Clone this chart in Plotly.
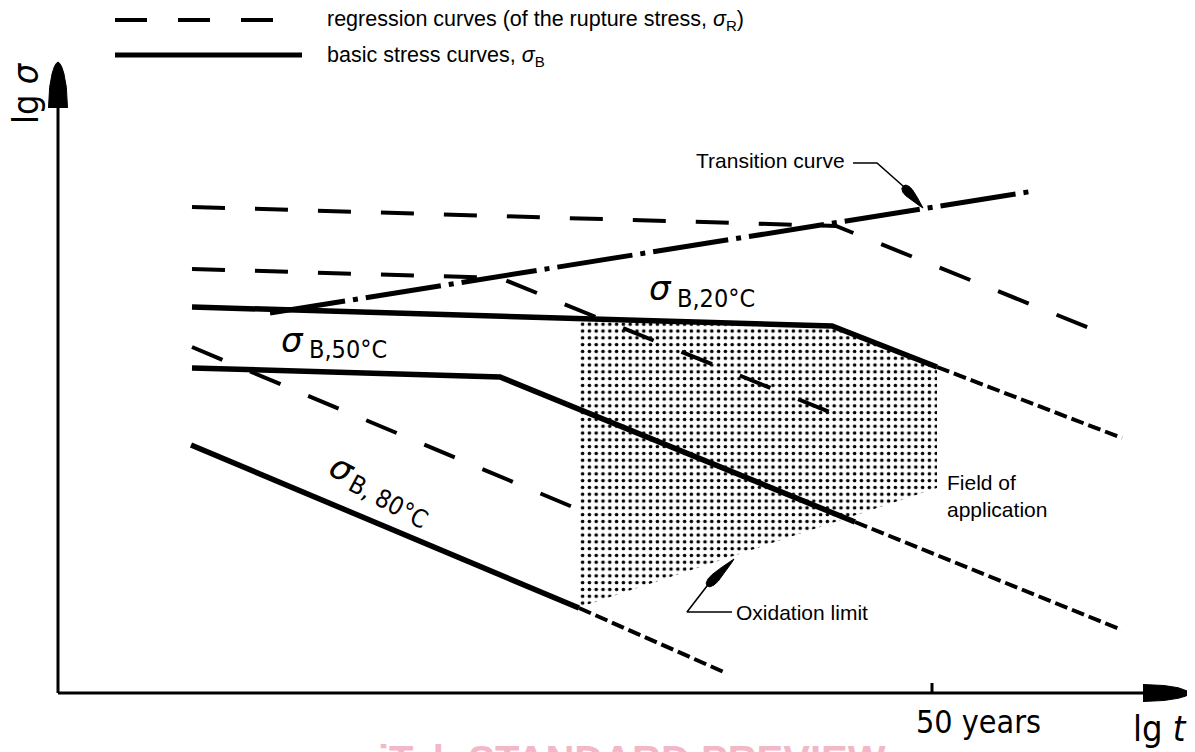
import math
import plotly.graph_objects as go

# ---------------------------------------------------------------
# Values read off the schematic (arbitrary log units, origin at axis cross)
# x = lg t , y = lg sigma
# ---------------------------------------------------------------
# regression curves of the rupture stress sigma_R (long dashes)
reg_20_t = [1.34, 7.78, 10.34]
reg_20_s = [4.86, 4.67, 3.64]
reg_50_t = [1.34, 4.42, 7.74]
reg_50_s = [4.24, 4.15, 2.80]
reg_80_t = [1.34, 5.17]
reg_80_s = [3.46, 1.85]

# basic stress curves sigma_B: solid part and extrapolated part (short dashes)
basic_20_t = [1.34, 7.74, 8.79]
basic_20_s = [3.86, 3.67, 3.26]
basic_20_ext_t = [8.79, 10.64]
basic_20_ext_s = [3.26, 2.55]
basic_50_t = [1.34, 4.42, 7.97]
basic_50_s = [3.25, 3.16, 1.71]
basic_50_ext_t = [7.97, 10.64]
basic_50_ext_s = [1.71, 0.63]
basic_80_t = [1.33, 5.21]
basic_80_s = [2.48, 0.85]
basic_80_ext_t = [5.21, 6.68]
basic_80_ext_s = [0.85, 0.20]

# transition curve (dash-dot)
transition_t = [2.12, 9.76]
transition_s = [3.80, 5.02]

# field of application (stippled area)
field_t = [5.22, 7.74, 8.79, 8.79, 5.22, 5.22]
field_s = [3.745, 3.67, 3.26, 2.05, 0.86, 3.745]

# axes
axis_t_end = 10.85
axis_t_tip = 11.32
axis_s_end = 5.85
axis_s_tip = 6.31
tick_50_years = 8.74
tick_labels = ["50 years"]

# leader lines for call-outs
trans_leader_t = [7.95, 8.19, 8.45]
trans_leader_s = [5.30, 5.30, 5.07]
trans_target = (8.65, 4.85)
oxid_leader_t = [6.74, 6.29, 6.49]
oxid_leader_s = [0.81, 0.81, 1.07]
oxid_target = (6.76, 1.34)

# legend sample lines
legend_dash_t = [0.57, 2.16]
legend_dash_s = [6.73, 6.73]
legend_solid_t = [0.57, 2.44]
legend_solid_s = [6.38, 6.38]

BLACK = "black"
SANS = "Liberation Sans, Arial, Helvetica, sans-serif"
COND = "DejaVu Sans Condensed, DejaVu Sans, sans-serif"

fig = go.Figure()


def line(t, s, width, dash="solid"):
    fig.add_trace(go.Scatter(x=t, y=s, mode="lines", showlegend=False,
                             hoverinfo="skip",
                             line=dict(color=BLACK, width=width, dash=dash)))


def head(base, tip, width, profile):
    bx, by = base
    tx, ty = tip
    dx, dy = tx - bx, ty - by
    L = math.hypot(dx, dy)
    ux, uy = dx / L, dy / L
    nx, ny = -uy, ux
    left = [(bx + ux * f * L + nx * w * width / 2, by + uy * f * L + ny * w * width / 2) for f, w in profile]
    right = [(bx + ux * f * L - nx * w * width / 2, by + uy * f * L - ny * w * width / 2) for f, w in reversed(profile)]
    pts = left + right
    fig.add_trace(go.Scatter(x=[p[0] for p in pts], y=[p[1] for p in pts], mode="lines",
                             fill="toself", fillcolor=BLACK, showlegend=False, hoverinfo="skip",
                             line=dict(color=BLACK, width=1)))


AXIS_PROFILE = [(0, 1.0), (0.45, 0.88), (0.75, 0.62), (0.9, 0.38), (0.97, 0.18), (1, 0)]
POINTER_PROFILE = [(0, 0.0), (0.04, 0.6), (0.15, 0.95), (0.3, 1.0), (0.6, 0.65), (0.9, 0.2), (1, 0)]

# stippled field of application
fig.add_trace(go.Scatter(x=field_t, y=field_s, mode="lines", fill="toself",
                         fillcolor="rgba(0,0,0,0)", showlegend=False, hoverinfo="skip",
                         line=dict(width=0, color="rgba(0,0,0,0)"),
                         fillpattern=dict(shape=".", size=6.8, solidity=0.22,
                                          fgcolor=BLACK, bgcolor="white", fillmode="replace")))

# regression curves
for t, s in [(reg_20_t, reg_20_s), (reg_50_t, reg_50_s), (reg_80_t, reg_80_s)]:
    line(t, s, 4, "33px,30px")

# basic stress curves
for t, s in [(basic_20_t, basic_20_s), (basic_50_t, basic_50_s), (basic_80_t, basic_80_s)]:
    line(t, s, 5.5)
for t, s in [(basic_20_ext_t, basic_20_ext_s), (basic_50_ext_t, basic_50_ext_s),
             (basic_80_ext_t, basic_80_ext_s)]:
    line(t, s, 4, "13px,5px")

# transition curve
line(transition_t, transition_s, 5, "76px,8px,5px,8px")

# axes
line([0, axis_t_end], [0, 0], 3)
line([0, 0], [0, axis_s_end], 3)
head((axis_t_end, 0), (axis_t_tip, 0), 0.17, AXIS_PROFILE)
head((0, axis_s_end), (0, axis_s_tip), 0.19, AXIS_PROFILE)
line([tick_50_years, tick_50_years], [0, 0.10], 3)

# call-outs
line(trans_leader_t, trans_leader_s, 1.6)
head((trans_leader_t[-1], trans_leader_s[-1]), trans_target, 0.09, POINTER_PROFILE)
line(oxid_leader_t, oxid_leader_s, 1.6)
head((oxid_leader_t[-1], oxid_leader_s[-1]), oxid_target, 0.09, POINTER_PROFILE)

# legend samples
line(legend_dash_t, legend_dash_s, 4, "32px,31px")
line(legend_solid_t, legend_solid_s, 5)

ann = []


def text(x, y, s, size, family=SANS, xanchor="center", yanchor="middle", angle=0, align="center", color=BLACK):
    ann.append(dict(x=x, y=y, xref="x", yref="y", text=s, showarrow=False,
                    xanchor=xanchor, yanchor=yanchor, textangle=angle, align=align,
                    font=dict(size=size, family=family, color=color)))


text(2.67, 6.73, "regression curves (of the rupture stress, <i>σ</i><sub>R</sub>)", 21.5, xanchor="left")
text(2.67, 6.37, "basic stress curves, <i>σ</i><sub>B</sub>", 21.5, xanchor="left")
text(7.89, 5.33, "Transition curve", 21, xanchor="right")
text(6.76, 0.81, "Oxidation limit", 21, xanchor="left")
text(8.87, 1.97, "Field of<br>application", 21, xanchor="left", align="left")

# curve labels
text(6.025, 4.05, "<i>σ</i>", 34, family="DejaVu Sans")
text(6.17, 3.945, "B,20°C", 25, family=COND, xanchor="left")
text(2.34, 3.53, "<i>σ</i>", 34, family="DejaVu Sans")
text(2.49, 3.435, "B,50°C", 25, family=COND, xanchor="left")
text(2.84, 2.25, "<i>σ</i>", 34, family="DejaVu Sans", angle=28)
text(3.30, 1.92, "B, 80°C", 25, family=COND, angle=28)

# axis labels
text(8.56, -0.29, tick_labels[0], 32, family=COND, xanchor="left")
text(11.02, -0.35, "lg <i>t</i>", 36, family=COND)
text(-0.33, 6.0, "lg <i>σ</i>", 36, family=COND, angle=-90)

# faint watermark at the bottom edge (mostly cut off)
text(5.74, -0.43, "<b>iTeh STANDARD PREVIEW</b>", 40, family=SANS, yanchor="top", color="#f2b8c8")

# the page places the figure 8 px from the top-left corner; ranges compensate
fig.update_layout(
    width=1195, height=752,
    margin=dict(l=0, r=0, t=0, b=0),
    paper_bgcolor="white", plot_bgcolor="white",
    xaxis=dict(range=[-0.50, 11.45], visible=False, fixedrange=True),
    yaxis=dict(range=[-0.67, 6.85], visible=False, fixedrange=True),
    annotations=ann,
    showlegend=False,
)

fig.write_html("out.html")
